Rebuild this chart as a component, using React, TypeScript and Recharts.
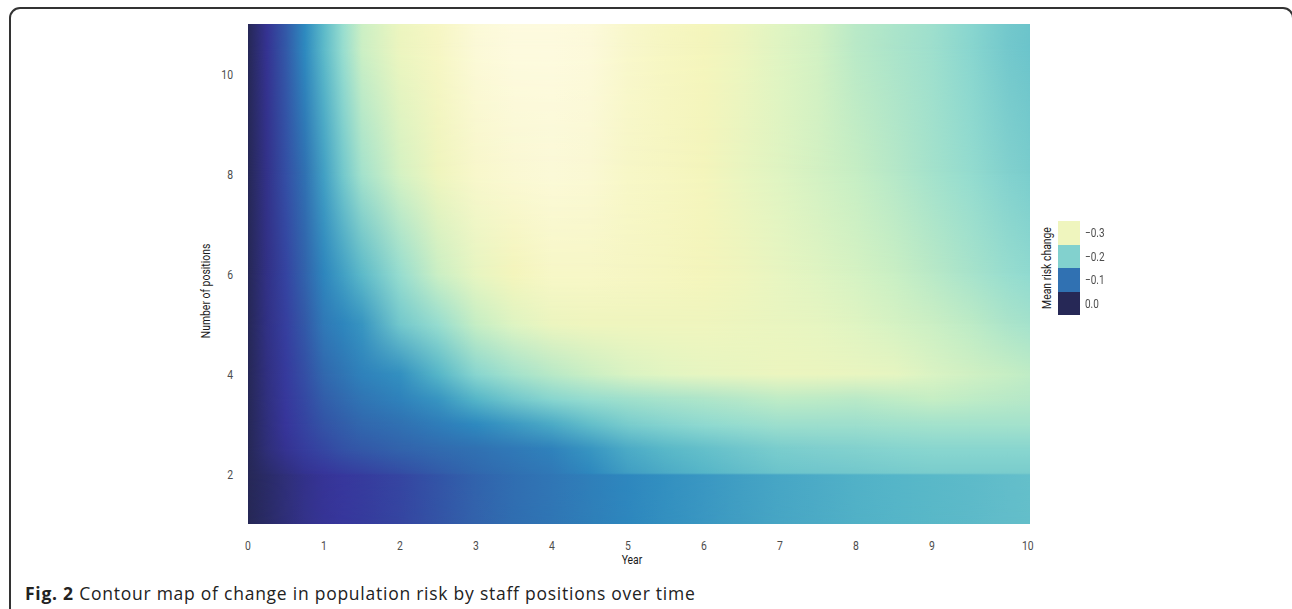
import { ComposedChart, XAxis, YAxis, ReferenceArea } from "recharts";

const years = [0, 0.25, 0.5, 0.75, 1, 1.25, 1.5, 2, 2.5, 3, 3.5, 4, 4.5, 5, 5.5, 6, 6.5, 7, 7.5, 8, 8.5, 9, 9.5, 10, 10.29];

// Number of positions for each row below (bottom to top)
const positions = [1, 1.98, 2.02, 2.5, 3, 3.5, 4, 5, 6, 8, 10.5, 11];

// Mean risk change per row, one value per entry of `years`
const riskRow1 = [0, -0.01, -0.02, -0.03, -0.037, -0.042, -0.046, -0.056, -0.07, -0.085, -0.097, -0.107, -0.117, -0.127, -0.135, -0.142, -0.149, -0.155, -0.16, -0.165, -0.169, -0.172, -0.175, -0.178, -0.18];
const riskRow1_98 = [0, -0.01, -0.02, -0.03, -0.037, -0.042, -0.046, -0.056, -0.07, -0.085, -0.097, -0.107, -0.117, -0.127, -0.135, -0.142, -0.149, -0.155, -0.16, -0.165, -0.169, -0.172, -0.175, -0.178, -0.18];
const riskRow2_02 = [0, -0.012, -0.024, -0.034, -0.041, -0.047, -0.052, -0.064, -0.077, -0.09, -0.1, -0.11, -0.128, -0.148, -0.16, -0.17, -0.178, -0.185, -0.188, -0.19, -0.193, -0.195, -0.195, -0.195, -0.195];
const riskRow2_5 = [0, -0.02, -0.035, -0.048, -0.058, -0.068, -0.075, -0.085, -0.093, -0.1, -0.11, -0.12, -0.14, -0.16, -0.172, -0.18, -0.188, -0.195, -0.198, -0.2, -0.203, -0.205, -0.205, -0.205, -0.205];
const riskRow3 = [0, -0.022, -0.04, -0.055, -0.07, -0.08, -0.09, -0.1, -0.115, -0.13, -0.145, -0.16, -0.18, -0.195, -0.203, -0.21, -0.215, -0.22, -0.22, -0.22, -0.223, -0.225, -0.225, -0.225, -0.225];
const riskRow3_5 = [0, -0.024, -0.043, -0.06, -0.08, -0.092, -0.105, -0.12, -0.14, -0.17, -0.19, -0.205, -0.215, -0.222, -0.228, -0.232, -0.238, -0.245, -0.243, -0.24, -0.245, -0.25, -0.245, -0.24, -0.238];
const riskRow4 = [0, -0.025, -0.045, -0.065, -0.09, -0.105, -0.12, -0.135, -0.17, -0.205, -0.225, -0.24, -0.255, -0.27, -0.278, -0.285, -0.29, -0.295, -0.293, -0.29, -0.283, -0.27, -0.26, -0.25, -0.245];
const riskRow5 = [0, -0.027, -0.05, -0.075, -0.11, -0.125, -0.14, -0.19, -0.215, -0.25, -0.275, -0.295, -0.3, -0.3, -0.3, -0.3, -0.295, -0.29, -0.283, -0.275, -0.265, -0.255, -0.243, -0.23, -0.225];
const riskRow6 = [0, -0.028, -0.055, -0.085, -0.125, -0.15, -0.175, -0.215, -0.255, -0.285, -0.31, -0.325, -0.325, -0.32, -0.315, -0.31, -0.3, -0.285, -0.275, -0.265, -0.253, -0.24, -0.228, -0.215, -0.21];
const riskRow8 = [0, -0.03, -0.065, -0.1, -0.15, -0.19, -0.225, -0.265, -0.3, -0.33, -0.34, -0.345, -0.34, -0.325, -0.318, -0.31, -0.29, -0.275, -0.263, -0.25, -0.238, -0.225, -0.213, -0.2, -0.195];
const riskRow10_5 = [0, -0.035, -0.075, -0.13, -0.175, -0.215, -0.255, -0.295, -0.32, -0.345, -0.355, -0.355, -0.35, -0.33, -0.318, -0.31, -0.295, -0.275, -0.262, -0.24, -0.23, -0.22, -0.205, -0.19, -0.185];
const riskRow11 = [0, -0.035, -0.075, -0.13, -0.175, -0.215, -0.255, -0.295, -0.32, -0.345, -0.355, -0.355, -0.35, -0.33, -0.318, -0.31, -0.295, -0.275, -0.262, -0.24, -0.23, -0.22, -0.205, -0.19, -0.185];

const riskRows = [riskRow1, riskRow1_98, riskRow2_02, riskRow2_5, riskRow3, riskRow3_5, riskRow4, riskRow5, riskRow6, riskRow8, riskRow10_5, riskRow11];

const xTicks = [0, 1, 2, 3, 4, 5, 6, 7, 8, 9, 10.26];
const xTickLabels = ["0", "1", "2", "3", "4", "5", "6", "7", "8", "9", "10"];
const yTicks = [2, 4, 6, 8, 10];

const legendValues = [-0.3, -0.2, -0.1, 0.0];
const legendLabels = ["\u22120.3", "\u22120.2", "\u22120.1", "0.0"];

// YlGnBu-like ramp as it appears in the figure
const colorStops: [number, string][] = [
  [0, "#262856"],
  [-0.04, "#37359b"],
  [-0.09, "#3168ae"],
  [-0.13, "#2e8abf"],
  [-0.17, "#56b6c8"],
  [-0.21, "#90dad0"],
  [-0.25, "#c6eec4"],
  [-0.28, "#e4f5c2"],
  [-0.31, "#f4f5bc"],
  [-0.36, "#fefae2"],
];

function hexToRgb(h: string) {
  return [1, 3, 5].map((i) => parseInt(h.slice(i, i + 2), 16));
}

function riskColor(v: number) {
  if (v >= colorStops[0][0]) return colorStops[0][1];
  for (let i = 1; i < colorStops.length; i++) {
    const [v1, c1] = colorStops[i];
    if (v >= v1) {
      const [v0, c0] = colorStops[i - 1];
      const t = (v0 - v) / (v0 - v1);
      const a = hexToRgb(c0);
      const b = hexToRgb(c1);
      const rgb = a.map((x, k) => Math.round(x + (b[k] - x) * t));
      return `rgb(${rgb.join(",")})`;
    }
  }
  return colorStops[colorStops.length - 1][1];
}

// condensed look: Roboto squeezed horizontally
const narrow = "Roboto, 'Liberation Sans', sans-serif";
const SQUEEZE = 0.8;

function XTick(props: any) {
  const { x, y, index } = props;
  return (
    <g transform={`translate(${x},${y}) scale(${SQUEEZE},1)`}>
      <text x={0} y={0} dy="0.71em" textAnchor="middle" fontSize={13} fill="#4d4d4d" fontFamily={narrow}>
        {xTickLabels[index]}
      </text>
    </g>
  );
}

function YTick(props: any) {
  const { x, y, payload } = props;
  return (
    <g transform={`translate(${x},${y}) scale(${SQUEEZE},1)`}>
      <text x={0} y={0} dy="0.355em" textAnchor="end" fontSize={13} fill="#4d4d4d" fontFamily={narrow}>
        {payload.value}
      </text>
    </g>
  );
}

function HeatCell(props: any) {
  const { x, y, width, height, baseId, topId } = props;
  if (width == null || height == null) return null;
  return (
    <g>
      <rect x={x} y={y} width={width} height={height} fill={`url(#${baseId})`} shapeRendering="crispEdges" />
      <rect x={x} y={y} width={width} height={height} fill={`url(#${topId})`} mask="url(#fadeUp)" shapeRendering="crispEdges" />
    </g>
  );
}

const titleStyle = (left: number, top: number, rotate: number): React.CSSProperties => ({
  position: "absolute",
  left,
  top,
  transform: `translate(-50%, -50%) rotate(${rotate}deg) scale(${SQUEEZE}, 1)`,
  fontFamily: narrow,
  fontSize: 13,
  color: "#1a1a1a",
  whiteSpace: "nowrap",
});

export default function App() {
  const cells: JSX.Element[] = [];
  for (let r = 0; r < positions.length - 1; r++) {
    for (let c = 0; c < years.length - 1; c++) {
      const baseId = `seg${r}_${c}`;
      const topId = `seg${r + 1}_${c}`;
      cells.push(
        <ReferenceArea
          key={`cell${r}_${c}`}
          x1={years[c]}
          x2={years[c + 1]}
          y1={positions[r]}
          y2={positions[r + 1]}
          ifOverflow="visible"
          shape={(p: any) => <HeatCell {...p} baseId={baseId} topId={topId} />}
        />
      );
    }
  }

  return (
    <div style={{ position: "fixed", left: 0, top: 0, width: 1292, height: 609, overflow: "hidden", background: "#fff" }}>
      <div
        style={{
          position: "absolute",
          left: 9,
          top: 7,
          width: 1285,
          height: 700,
          border: "2px solid #333",
          borderRadius: 11,
          boxSizing: "border-box",
        }}
      />
      <div style={{ position: "absolute", left: 0, top: 0 }}>
        <ComposedChart width={1292} height={609} margin={{ top: 24, right: 262, bottom: 55, left: 208 }}>
          <defs>
            <linearGradient id="fadeGrad" x1="0" y1="0" x2="0" y2="1">
              <stop offset="0" stopColor="#fff" />
              <stop offset="1" stopColor="#000" />
            </linearGradient>
            <mask id="fadeUp" maskContentUnits="objectBoundingBox">
              <rect x="0" y="0" width="1" height="1" fill="url(#fadeGrad)" />
            </mask>
            {riskRows.map((row, r) =>
              years.slice(0, -1).map((_, c) => (
                <linearGradient key={`seg${r}_${c}`} id={`seg${r}_${c}`} x1="0" y1="0" x2="1" y2="0">
                  <stop offset="0" stopColor={riskColor(row[c])} />
                  <stop offset="1" stopColor={riskColor(row[c + 1])} />
                </linearGradient>
              ))
            )}
          </defs>
          <XAxis
            type="number"
            dataKey="x"
            domain={[0, 10.29]}
            ticks={xTicks}
            interval={0}
            axisLine={false}
            tickLine={false}
            tickSize={0}
            tickMargin={17}
            height={30}
            tick={<XTick />}
            allowDataOverflow
          />
          <YAxis
            type="number"
            dataKey="y"
            domain={[1, 11]}
            ticks={yTicks}
            interval={0}
            axisLine={false}
            tickLine={false}
            tickSize={0}
            tickMargin={15}
            width={40}
            tick={<YTick />}
            allowDataOverflow
          />
          {cells}
        </ComposedChart>
      </div>

      <div style={titleStyle(632, 559, 0)}>Year</div>
      <div style={titleStyle(205, 291, -90)}>Number of positions</div>
      <div style={titleStyle(1046, 268, -90)}>Mean risk change</div>

      <div style={{ position: "absolute", left: 1058, top: 221 }}>
        {legendValues.map((v, i) => (
          <div key={v} style={{ display: "flex", alignItems: "center", height: 23.5 }}>
            <div style={{ width: 22, height: 23.5, background: riskColor(v) }} />
            <span
              style={{
                marginLeft: 5,
                fontFamily: narrow,
                fontSize: 12.5,
                color: "#4d4d4d",
                display: "inline-block",
                transform: `scale(${SQUEEZE}, 1)`,
                transformOrigin: "left center",
              }}
            >
              {legendLabels[i]}
            </span>
          </div>
        ))}
      </div>

      <div
        style={{
          position: "absolute",
          left: 25,
          top: 583,
          fontFamily: "'Open Sans', sans-serif",
          fontSize: 17.5,
          letterSpacing: 0.75,
          lineHeight: "20px",
          color: "#222",
          whiteSpace: "nowrap",
        }}
      >
        <b>Fig. 2</b> Contour map of change in population risk by staff positions over time
      </div>
    </div>
  );
}
